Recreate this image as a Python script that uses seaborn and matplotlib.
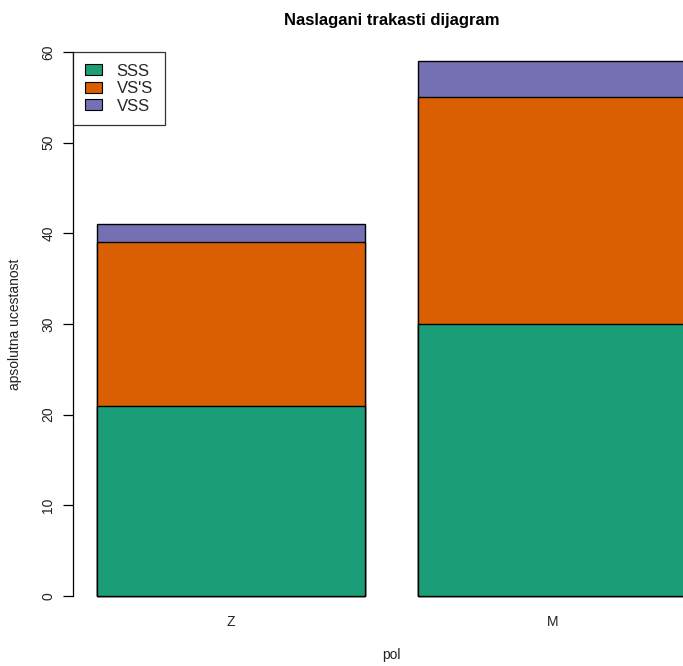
import matplotlib
matplotlib.use("Agg")
import matplotlib.pyplot as plt
from matplotlib.patches import Patch
import seaborn as sns
import pandas as pd
import numpy as np

# Counts per gender (pol) and category
pol = ["Z", "M"]
categories = ["SSS", "VS'S", "VSS"]
sss = [21, 30]
vs_s = [18, 25]
vss = [2, 4]
colors = ["#1B9E77", "#D95F02", "#7570B3"]

sns.set_theme(style="white")
plt.rcParams["font.family"] = ["Liberation Sans", "DejaVu Sans"]

W, H = 683, 666
fig = plt.figure(figsize=(W / 100, H / 100), dpi=100)
# plot region in pixels (extends past the right edge of the figure)
left_px, right_px, top_px, bottom_px = 73.4, 710.0, 30.2, 617.8
ax = fig.add_axes([left_px / W, 1 - bottom_px / H,
                   (right_px - left_px) / W, (bottom_px - top_px) / H])

df = pd.DataFrame({"pol": pol, "SSS": sss, "VS'S": vs_s, "VSS": vss})
cum = df[categories].cumsum(axis=1).assign(pol=pol)

# bars of width 1 separated by a gap of 0.2, rescaled to unit category spacing
bar_w = 1 / 1.2
gap = 0.2 / 1.2
# draw cumulative totals back to front so each segment shows on top of the previous
for cat, col in zip(reversed(categories), reversed(colors)):
    sns.barplot(data=cum, x="pol", y=cat, order=pol,
                color=col, width=bar_w, edgecolor="black", linewidth=1,
                saturation=1, ax=ax)

span = 2 * bar_w + gap
ax.set_xlim(-bar_w / 2 - 0.04 * span, 1 + bar_w / 2 + 0.04 * span)
ax.set_ylim(-2.4, 62.4)

for s in ["top", "right", "bottom"]:
    ax.spines[s].set_visible(False)
ax.spines["left"].set_bounds(0, 60)
ax.spines["left"].set_color("black")
ax.spines["left"].set_linewidth(0.9)

ax.set_yticks(np.arange(0, 61, 10))
ax.tick_params(axis="y", left=True, length=7, width=0.9, color="black",
               labelsize=10, labelcolor="#222222", pad=6)
for lab in ax.get_yticklabels():
    lab.set_rotation(90)
    lab.set_va("center")
ax.tick_params(axis="x", bottom=False, length=0, labelsize=10, pad=-2,
               labelcolor="#222222")

ax.set_xlabel("pol", fontsize=10, labelpad=14, color="#222222")
ax.set_ylabel("apsolutna ucestanost", fontsize=10, labelpad=14, color="#222222")
ax.set_title("Naslagani trakasti dijagram", fontsize=12, fontweight="bold",
             pad=4, color="black")

handles = [Patch(facecolor=c, edgecolor="black", linewidth=0.8) for c in colors]
leg = ax.legend(handles, categories, loc="upper left",
                bbox_to_anchor=(ax.get_xlim()[0], 60), bbox_transform=ax.transData,
                borderaxespad=0, fontsize=12, frameon=True, fancybox=False,
                handlelength=1.0, handleheight=0.6, handletextpad=0.9,
                labelspacing=0.15, borderpad=0.7)
leg.get_frame().set_edgecolor("black")
leg.get_frame().set_linewidth(0.9)

fig.savefig("out.png", dpi=100)
